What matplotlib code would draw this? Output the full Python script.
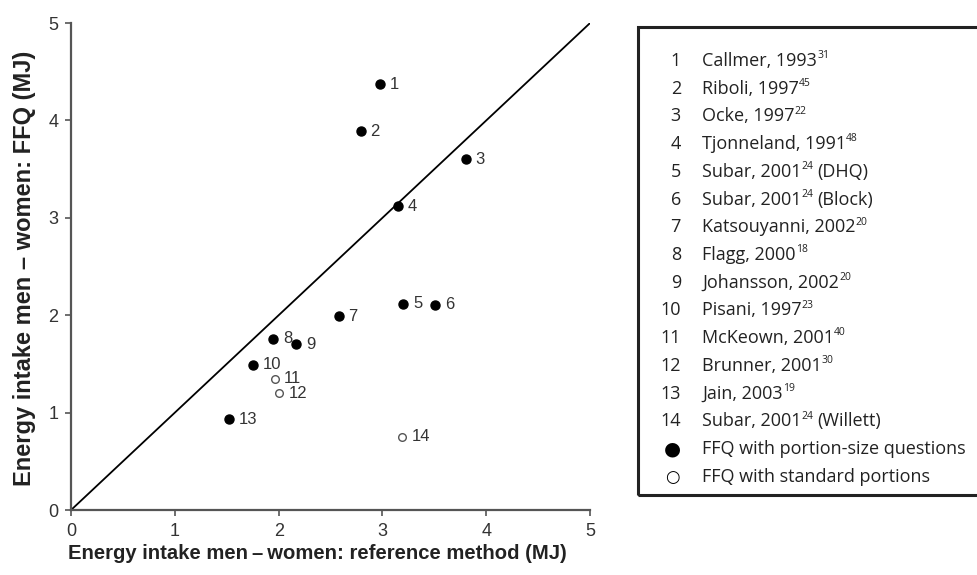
import matplotlib
matplotlib.use('Agg')
import matplotlib.pyplot as plt
from matplotlib.patches import Rectangle

# study points
study_ids = [1, 2, 3, 4, 5, 6, 7, 8, 9, 10, 11, 12, 13, 14]
ref_mj = [2.98, 2.79, 3.80, 3.15, 3.20, 3.51, 2.58, 1.95, 2.17, 1.75, 1.96, 2.00, 1.52, 3.19]
ffq_mj = [4.37, 3.89, 3.60, 3.12, 2.12, 2.11, 1.99, 1.76, 1.70, 1.49, 1.35, 1.20, 0.93, 0.75]
portion_q = [True, True, True, True, True, True, True, True, True, True, False, False, True, False]

authors = ['Callmer, 1993', 'Riboli, 1997', 'Ocke, 1997', 'Tjonneland, 1991',
           'Subar, 2001', 'Subar, 2001', 'Katsouyanni, 2002', 'Flagg, 2000',
           'Johansson, 2002', 'Pisani, 1997', 'McKeown, 2001', 'Brunner, 2001',
           'Jain, 2003', 'Subar, 2001']
refs = ['31', '45', '22', '48', '24', '24', '20', '18', '20', '23', '40', '30', '19', '24']
suffix = ['', '', '', '', '(DHQ)', '(Block)', '', '', '', '', '', '', '', '(Willett)']

fig = plt.figure(figsize=(9.77, 5.75), dpi=100)
ax = fig.add_axes([0.0727, 0.113, 0.604 - 0.0727, 0.847])

ax.plot([0, 5], [0, 5], color='black', lw=1.3, zorder=1)

for i in range(len(study_ids)):
    if portion_q[i]:
        ax.plot(ref_mj[i], ffq_mj[i], 'o', ms=6.5, color='black', zorder=3, clip_on=False)
    else:
        ax.plot(ref_mj[i], ffq_mj[i], 'o', ms=5.5, mfc='white', mec='#555555', mew=1.0,
                zorder=3, clip_on=False)
    ax.annotate(str(study_ids[i]), (ref_mj[i], ffq_mj[i]), xytext=(7, 0),
                textcoords='offset points', va='center', ha='left',
                fontsize=12, color='#333333', family='Liberation Sans')

ax.set_xlim(0, 5)
ax.set_ylim(0, 5)
ax.set_xticks([0, 1, 2, 3, 4, 5])
ax.set_yticks([0, 1, 2, 3, 4, 5])
for s in ['top', 'right']:
    ax.spines[s].set_visible(False)
for s in ['left', 'bottom']:
    ax.spines[s].set_color('#555555')
    ax.spines[s].set_linewidth(1.6)
ax.tick_params(length=4, width=1.2, color='#555555', labelsize=13, labelcolor='#333333', pad=5)
for lab in ax.get_xticklabels() + ax.get_yticklabels():
    lab.set_family('Liberation Sans')

ax.set_xlabel('Energy intake men\u2009\u2013\u2009women: reference method (MJ)', fontsize=14.6,
              fontweight='bold', family='Liberation Sans', color='#222222')
ax.xaxis.set_label_coords(0.475, -0.07)
ax.set_ylabel('Energy intake men \u2013 women: FFQ (MJ)', fontsize=17,
              fontweight='bold', family='Liberation Sans', color='#222222')
ax.yaxis.set_label_coords(-0.068, 0.497)

# legend box, open on the right like the source
box = Rectangle((0.653, 0.139), 0.4, 0.814, transform=fig.transFigure,
                fill=False, edgecolor='#222222', lw=2.2)
fig.add_artist(box)

renderer = fig.canvas.get_renderer()
W = fig.bbox.width
row0 = 0.894
step = 0.0482
fs = 13
for i in range(len(study_ids)):
    y = row0 - i * step
    fig.text(0.697, y, str(study_ids[i]), ha='right', va='center', fontsize=fs,
             family='Open Sans', color='#222222')
    t = fig.text(0.719, y, authors[i], ha='left', va='center', fontsize=fs,
                 family='Open Sans', color='#222222')
    x1 = t.get_window_extent(renderer).x1 / W
    s = fig.text(x1 - 0.0003, y + 0.009, refs[i], ha='left', va='center', fontsize=7.5,
                 family='Open Sans', color='#222222')
    if suffix[i]:
        x2 = s.get_window_extent(renderer).x1 / W
        fig.text(x2 + 0.004, y, suffix[i], ha='left', va='center', fontsize=fs,
                 family='Open Sans', color='#222222')

y = row0 - 14 * step
fig.text(0.688, y, '\u25CF', ha='center', va='center', fontsize=14, color='black',
         family='DejaVu Sans')
fig.text(0.719, y, 'FFQ with portion-size questions', ha='left', va='center',
         fontsize=fs, family='Open Sans', color='#222222')
y = row0 - 15 * step
fig.text(0.688, y, '\u25CB', ha='center', va='center', fontsize=12, color='black',
         family='DejaVu Sans', fontweight='bold')
fig.text(0.719, y, 'FFQ with standard portions', ha='left', va='center',
         fontsize=fs, family='Open Sans', color='#222222')

fig.savefig('out.png', dpi=100)
